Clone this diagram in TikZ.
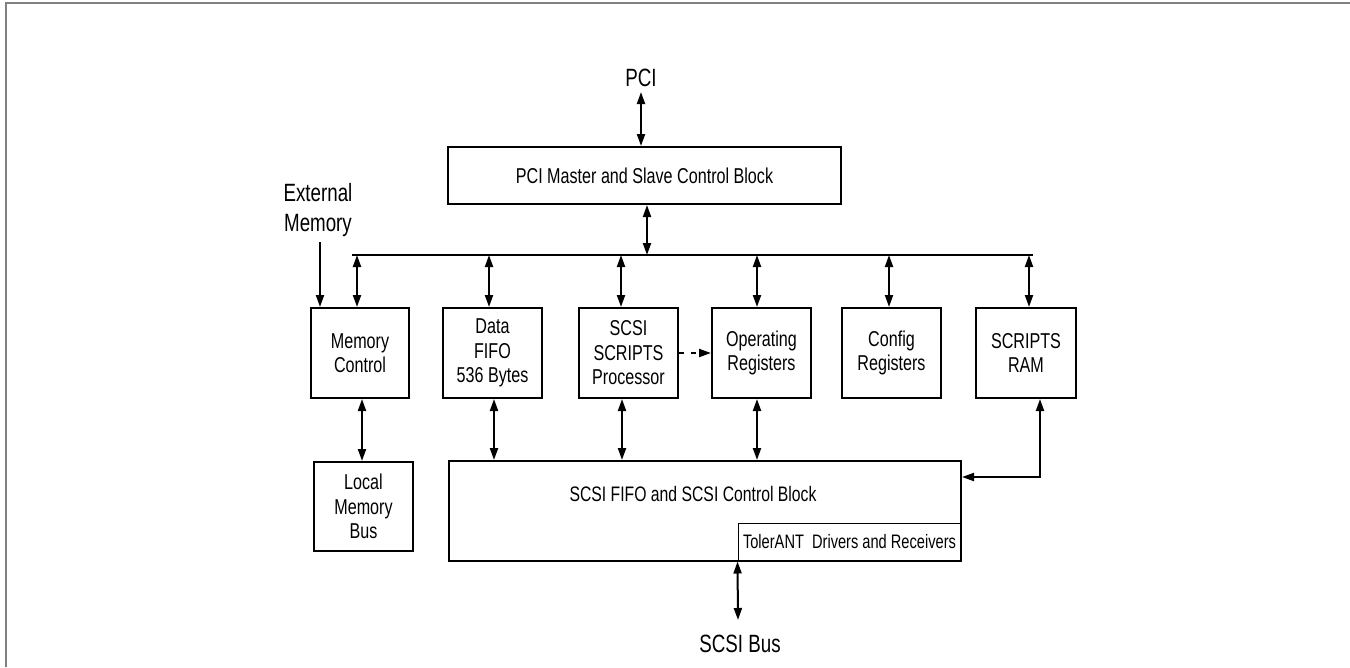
\documentclass[tikz,border=0pt]{standalone}
\usepackage{fontspec}
\setmainfont[FakeStretch=0.75]{Liberation Sans}
\usetikzlibrary{arrows.meta}
\begin{document}
\begin{tikzpicture}[x=1pt,y=1pt,
  blk/.style={draw,line width=2pt,inner sep=0pt,align=center,font=\fontsize{21.5}{24.5}\selectfont},
  lbl/.style={inner sep=0pt,align=center,font=\fontsize{25}{30}\selectfont},
  conn/.style={line width=2pt},
  dbl/.style={conn,{Triangle[length=12pt,width=8pt]}-{Triangle[length=12pt,width=8pt]}},
  sgl/.style={conn,-{Triangle[length=12pt,width=8pt]}}]
\useasboundingbox (0,0) rectangle (1350,-667);
\draw[gray,line width=2.5pt] (6,-667) -- (6,-3) -- (1350,-3);
% labels
\node[lbl] (pci) at (641,-78) {PCI};
\node[lbl] (ext) at (318,-210) {External\\Memory};
\node[lbl] (scsibus) at (740,-644) {SCSI Bus};
% blocks
\node[blk,minimum width=393,minimum height=57] (pcim) at (644.5,-175.5) {PCI Master and Slave Control Block};
\node[blk,minimum width=98,minimum height=90] (memctl) at (360,-353) {Memory\\Control};
\node[blk,minimum width=99,minimum height=90] (fifo) at (492.5,-353) {Data\\FIFO\\536 Bytes};
\node[blk,minimum width=99,minimum height=90] (scripts) at (628.5,-353) {SCSI\\SCRIPTS\\Processor};
\node[blk,minimum width=99,minimum height=90] (opreg) at (761.5,-353) {Operating\\Registers};
\node[blk,minimum width=99,minimum height=90] (cfg) at (891.5,-353) {Config\\Registers};
\node[blk,minimum width=100,minimum height=90] (ram) at (1026,-353) {SCRIPTS\\RAM};
\node[blk,minimum width=99,minimum height=89] (local) at (363.5,-506.5) {Local\\Memory\\Bus};
\node[blk,minimum width=512,minimum height=100] (scsififo) at (705,-511) {};
\node[inner sep=0pt,font=\fontsize{21}{24}\selectfont] (scsitxt) at (693,-494) {SCSI FIFO and SCSI Control Block};
\node[draw,line width=1pt,inner sep=0pt,minimum width=223,minimum height=38,font=\fontsize{19.5}{23}\selectfont] (tol) at (849.5,-542) {TolerANT\ \ Drivers and Receivers};
% bus
\coordinate (busL) at (352,-255);
\coordinate (busR) at (1033,-255);
\draw[conn] (busL) -- (busR);
% connectors
\coordinate (pciA) at (641,-92);
\draw[dbl] (pciA) -- (pcim.north -| pciA);
\draw[dbl] (pcim.south -| 647,0) -- (busL -| 647,0);
\coordinate (extA) at (320,-242);
\draw[sgl] (extA) -- (memctl.north -| extA);
\draw[dbl] (busL -| 357,0) -- (memctl.north -| 357,0);
\draw[dbl] (busL -| 489,0) -- (fifo.north -| 489,0);
\draw[dbl] (busL -| 621,0) -- (scripts.north -| 621,0);
\draw[dbl] (busL -| 757,0) -- (opreg.north -| 757,0);
\draw[dbl] (busL -| 889,0) -- (cfg.north -| 889,0);
\draw[dbl] (busL -| 1029,0) -- (ram.north -| 1029,0);
\draw[sgl,dash pattern=on 5pt off 7pt] (scripts.east) -- (opreg.west);
\draw[dbl] (memctl.south -| 362,0) -- (local.north -| 362,0);
\draw[dbl] (fifo.south -| 494,0) -- (scsififo.north -| 494,0);
\draw[dbl] (scripts.south -| 622,0) -- (scsififo.north -| 622,0);
\draw[dbl] (opreg.south -| 757,0) -- (scsififo.north -| 757,0);
\draw[dbl] (ram.south -| 1040,0) |- (scsififo.east |- 0,-477);
\coordinate (busB) at (738,-620);
\draw[dbl] (tol.south west) -- (busB);
\end{tikzpicture}
\end{document}
